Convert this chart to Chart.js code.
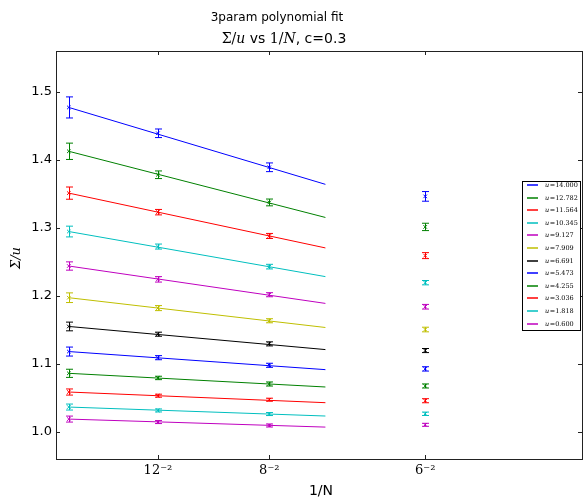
<!DOCTYPE html>
<html>
<head>
<meta charset="utf-8">
<script src="https://cdn.jsdelivr.net/npm/chart.js@4.4.1/dist/chart.umd.min.js"></script>
<style>
  html, body { margin: 0; padding: 0; background: #ffffff; }
  #wrap { width: 587px; height: 502px; }
</style>
</head>
<body>
<div id="wrap"><canvas id="fitChart" width="587" height="502"></canvas></div>
<script>
// Valores (Sigma/u contra 1/N)
const xPoints = [0, 1 / 144, 1 / 64, 1 / 36];
const fitX = [0, 0.02];
const xTickValues = [1 / 144, 1 / 64, 1 / 36];
const xTickLabels = ['12\u207B\u00B2', '8\u207B\u00B2', '6\u207B\u00B2'];
const yTickValues = [1.0, 1.1, 1.2, 1.3, 1.4, 1.5];
const uLabels = ['14.000', '12.782', '11.564', '10.345', '9.127', '7.909', '6.691', '5.473', '4.255', '3.036', '1.818', '0.600'];

const valAt0  = [1.477, 1.4125, 1.351, 1.2945, 1.2438, 1.1972, 1.1549, 1.118, 1.086, 1.0585, 1.0364, 1.0187];
const valAt12 = [1.439, 1.378, 1.323, 1.2724, 1.2242, 1.1819, 1.1435, 1.109, 1.0792, 1.0531, 1.0314, 1.0143];
const valAt8  = [1.389, 1.3373, 1.288, 1.2429, 1.2016, 1.1633, 1.1293, 1.0978, 1.0703, 1.0472, 1.0261, 1.0093];
const valAt6  = [1.3462, 1.3013, 1.2591, 1.2193, 1.1839, 1.1504, 1.1195, 1.0925, 1.0674, 1.0457, 1.0265, 1.0103];

const err0  = [0.0155, 0.012, 0.009, 0.0079, 0.0061, 0.0071, 0.0064, 0.0066, 0.006, 0.0045, 0.0044, 0.0044];
const err12 = [0.0063, 0.0056, 0.004, 0.0037, 0.004, 0.0037, 0.003, 0.003, 0.0025, 0.0022, 0.0022, 0.0022];
const err8  = [0.0064, 0.005, 0.0037, 0.0034, 0.003, 0.003, 0.003, 0.003, 0.003, 0.0022, 0.0022, 0.0022];
const err6  = [0.0071, 0.0054, 0.0044, 0.0032, 0.0034, 0.0034, 0.003, 0.0032, 0.003, 0.003, 0.0025, 0.0022];

const fitAt0  = valAt0;
const fitAt02 = [1.3639, 1.3152, 1.2704, 1.2282, 1.1888, 1.1534, 1.1209, 1.0914, 1.0659, 1.0428, 1.0232, 1.0069];

// cores do estilo clássico do matplotlib
const colors = ['#0000ff', '#008000', '#ff0000', '#00bfbf', '#bf00bf', '#bfbf00', '#000000',
                '#0000ff', '#008000', '#ff0000', '#00bfbf', '#bf00bf'];

const datasets = [];
uLabels.forEach((u, i) => {
    const ys = [valAt0[i], valAt12[i], valAt8[i], valAt6[i]];
    const es = [err0[i], err12[i], err8[i], err6[i]];
    // pontos com barras de erro
    datasets.push({
        label: 'pts ' + u,
        data: xPoints.map((x, j) => ({ x: x, y: ys[j] })),
        errs: es,
        showLine: false,
        borderColor: colors[i],
        backgroundColor: colors[i],
        pointStyle: 'crossRot',
        pointRadius: 2.5,
        pointBorderWidth: 1
    });
    // curva do ajuste
    datasets.push({
        label: u,
        isFit: true,
        data: [{ x: fitX[0], y: fitAt0[i] }, { x: fitX[1], y: fitAt02[i] }],
        showLine: true,
        borderColor: colors[i],
        borderWidth: 1,
        pointRadius: 0
    });
});

// desenha barras de erro usando as escalas do Chart.js
const errorBars = {
    id: 'errorBars',
    afterDatasetsDraw(chart) {
        const ctx = chart.ctx;
        const xs = chart.scales.x, ys = chart.scales.y;
        ctx.save();
        chart.data.datasets.forEach(ds => {
            if (!ds.errs) return;
            ctx.strokeStyle = ds.borderColor;
            ctx.lineWidth = 1;
            ds.data.forEach((p, j) => {
                const px = Math.round(xs.getPixelForValue(p.x)) + 0.5;
                const top = ys.getPixelForValue(p.y + ds.errs[j]);
                const bot = ys.getPixelForValue(p.y - ds.errs[j]);
                ctx.beginPath();
                ctx.moveTo(px, top); ctx.lineTo(px, bot);
                ctx.moveTo(px - 3.5, top); ctx.lineTo(px + 3.5, top);
                ctx.moveTo(px - 3.5, bot); ctx.lineTo(px + 3.5, bot);
                ctx.stroke();
            });
        });
        ctx.restore();
    }
};

// moldura, ticks internos, títulos e legenda
const frame = {
    id: 'frame',
    afterDraw(chart) {
        const ctx = chart.ctx;
        const a = chart.chartArea;
        const xs = chart.scales.x, ys = chart.scales.y;
        ctx.save();
        ctx.strokeStyle = '#222';
        ctx.lineWidth = 1;
        ctx.strokeRect(Math.round(a.left) + 0.5, Math.round(a.top) + 0.5,
                       Math.round(a.right - a.left), Math.round(a.bottom - a.top));
        ctx.beginPath();
        yTickValues.forEach(v => {
            const py = Math.round(ys.getPixelForValue(v)) + 0.5;
            ctx.moveTo(a.left, py); ctx.lineTo(a.left + 4, py);
            ctx.moveTo(a.right, py); ctx.lineTo(a.right - 4, py);
        });
        xTickValues.forEach(v => {
            const px = Math.round(xs.getPixelForValue(v)) + 0.5;
            ctx.moveTo(px, a.bottom); ctx.lineTo(px, a.bottom - 4);
            ctx.moveTo(px, a.top); ctx.lineTo(px, a.top + 4);
        });
        ctx.stroke();

        // títulos
        ctx.fillStyle = '#000';
        ctx.textBaseline = 'alphabetic';
        ctx.textAlign = 'center';
        ctx.font = '12px "DejaVu Sans"';
        ctx.fillText('3param polynomial fit', 277, 21);

        const parts = [
            ['\u03A3/', '14px "DejaVu Serif"'],
            ['u', 'italic 14px "DejaVu Serif"'],
            [' vs ', '14px "DejaVu Sans"'],
            ['1/', '14px "DejaVu Serif"'],
            ['N', 'italic 14px "DejaVu Serif"'],
            [', c=0.3', '14px "DejaVu Sans"']
        ];
        let total = 0;
        parts.forEach(p => { ctx.font = p[1]; total += ctx.measureText(p[0]).width; });
        let tx = 284 - total / 2;
        ctx.textAlign = 'left';
        parts.forEach(p => { ctx.font = p[1]; ctx.fillText(p[0], tx, 43); tx += ctx.measureText(p[0]).width; });

        // rótulos dos eixos
        ctx.textAlign = 'center';
        ctx.font = '14px "DejaVu Sans"';
        ctx.fillText('1/N', 321, 495);
        ctx.save();
        ctx.translate(20, 258);
        ctx.rotate(-Math.PI / 2);
        ctx.font = 'italic 13px "DejaVu Serif"';
        ctx.fillText('\u03A3/u', 0, 0);
        ctx.restore();

        // legenda
        const lx = 522, ly = 181, lw = 58, lh = 149;
        ctx.fillStyle = '#fff';
        ctx.fillRect(lx, ly, lw, lh);
        ctx.strokeStyle = '#000';
        ctx.lineWidth = 1;
        ctx.strokeRect(lx + 0.5, ly + 0.5, lw, lh);
        const fits = chart.data.datasets.filter(d => d.isFit);
        ctx.textAlign = 'left';
        ctx.textBaseline = 'middle';
        fits.forEach((d, k) => {
            const yy = Math.round(185 + k * 12.6);
            ctx.strokeStyle = d.borderColor;
            ctx.lineWidth = 1.5;
            ctx.beginPath();
            ctx.moveTo(527, yy); ctx.lineTo(538, yy);
            ctx.stroke();
            ctx.fillStyle = '#000';
            ctx.font = 'italic 6.5px "DejaVu Serif"';
            ctx.fillText('u', 545, yy);
            const w = ctx.measureText('u').width;
            ctx.font = '6.5px "DejaVu Serif"';
            ctx.fillText('=' + d.label, 545 + w + 0.5, yy);
        });
        ctx.restore();
    }
};

new Chart(document.getElementById('fitChart'), {
    type: 'scatter',
    data: { datasets: datasets },
    options: {
        responsive: false,
        animation: false,
        devicePixelRatio: 1,
        layout: { padding: { top: 51, right: 4, left: 0, bottom: 0 } },
        plugins: {
            legend: { display: false },
            tooltip: { enabled: false }
        },
        scales: {
            x: {
                type: 'linear',
                min: -0.001,
                max: 0.04,
                grid: { display: false, drawTicks: false },
                border: { display: false },
                afterBuildTicks: s => { s.ticks = xTickValues.map(v => ({ value: v })); },
                afterFit: s => { s.height = 43; },
                ticks: {
                    color: '#000',
                    padding: 4,
                    maxRotation: 0,
                    font: { family: '"DejaVu Serif"', size: 13 },
                    callback: (v, i) => xTickLabels[i]
                }
            },
            y: {
                min: 0.96,
                max: 1.56,
                grid: { display: false, drawTicks: false },
                border: { display: false },
                afterBuildTicks: s => { s.ticks = yTickValues.map(v => ({ value: v })); },
                afterFit: s => { s.width = 56; },
                ticks: {
                    color: '#000',
                    padding: 4,
                    font: { family: '"DejaVu Sans"', size: 13 },
                    callback: v => v.toFixed(1)
                }
            }
        }
    },
    plugins: [errorBars, frame]
});
</script>
</body>
</html>
